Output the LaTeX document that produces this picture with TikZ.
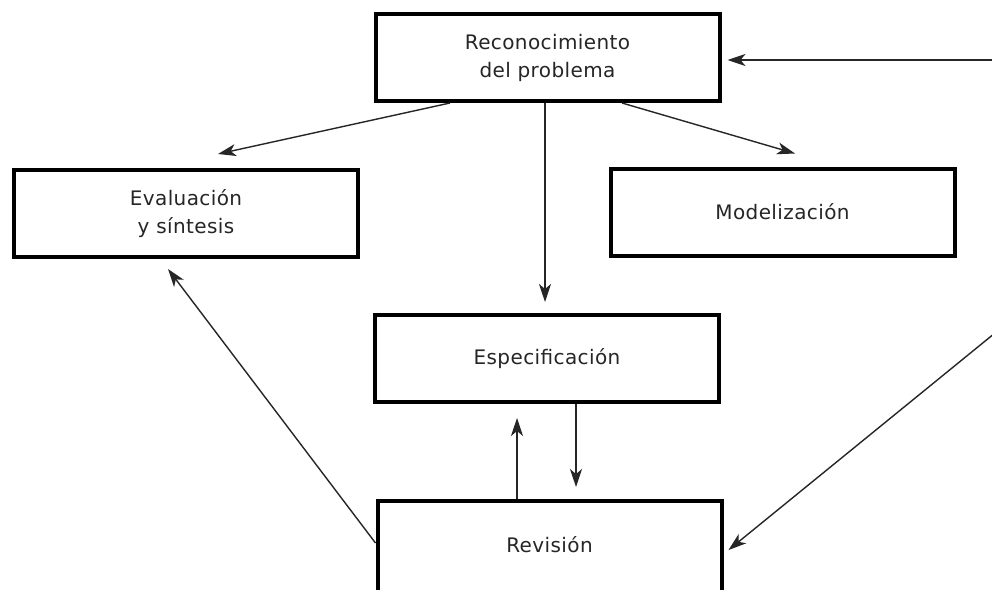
\documentclass[tikz,border=0pt]{standalone}
\usepackage{fontspec}
\setmainfont[LetterSpace=2]{DejaVu Sans}
\usetikzlibrary{arrows.meta}
\tikzset{
  box/.style={draw=black, line width=4pt, rectangle, minimum width=344pt, minimum height=87pt,
    inner sep=0pt, align=center, font=\fontsize{20}{28}\selectfont, text=black!85},
  arr/.style={line width=1.4pt, draw=black!85, -{Stealth[length=18pt,width=12pt,inset=5pt]}}
}
\begin{document}
\begin{tikzpicture}[x=1pt,y=-1pt]
\clip (0,0) rectangle (992,589);
\fill[white] (0,0) rectangle (992,589);
\node[box] (rec) at (547.5,57.5) {Reconocimiento\\del problema};
\node[box] (eva) at (186,213.5) {Evaluación\\y síntesis};
\node[box] (mod) at (782.5,212) {Modelización};
\node[box] (esp) at (547,358.5) {Especificación};
\node[box, text height=51pt, text depth=73pt, anchor=base] (rev) at (549.5,552) {Revisión};
\coordinate (r1) at (995,60);
\coordinate (r2) at (995,333);
\draw[arr] ([xshift=-97.5pt]rec.south) -- ([xshift=32pt,yshift=14pt]eva.north);
\draw[arr] ([xshift=74.5pt]rec.south) -- ([xshift=12.5pt,yshift=13pt]mod.north);
\draw[arr] ([xshift=-2.5pt]rec.south) -- ([xshift=-2pt,yshift=11pt]esp.north);
\draw[arr] ([xshift=-32.5pt]rev.north) -- ([xshift=-30pt,yshift=-14pt]esp.south);
\draw[arr] ([xshift=29pt]esp.south) -- ([xshift=26.5pt,yshift=12pt]rev.north);
\draw[arr] ([yshift=20pt]rev.west) -- ([xshift=-18pt,yshift=-10pt]eva.south);
\draw[arr] (r1) -- ([xshift=6pt]rec.east |- r1);
\draw[arr] (r2) -- ([xshift=5pt,yshift=13pt]rev.east);
\end{tikzpicture}
\end{document}
